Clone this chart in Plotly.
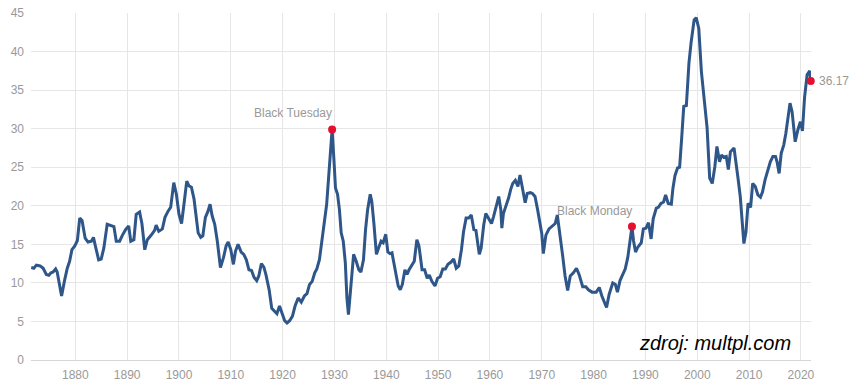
import plotly.graph_objects as go

# Shiller P/E (CAPE)
years = [
    1871.5, 1872.0, 1872.5, 1873.2, 1873.8, 1874.4, 1874.9, 1875.3, 1875.7, 1876.2,
    1876.5, 1876.9, 1877.35, 1877.95, 1878.45, 1878.9, 1879.35, 1879.9, 1880.4, 1880.85,
    1881.3, 1881.9, 1882.45, 1883.1, 1883.5, 1883.9, 1884.5, 1885.0, 1885.5, 1886.15,
    1886.8, 1887.45, 1887.9, 1888.55, 1889.1, 1889.7, 1890.3, 1890.7, 1891.3, 1891.75,
    1892.4, 1892.85, 1893.4, 1893.9, 1894.65, 1895.3, 1895.6, 1896.1, 1896.8, 1897.3,
    1897.9, 1898.4, 1899.0, 1899.5, 1900.0, 1900.5, 1901.0, 1901.5, 1901.9, 1902.4,
    1902.9, 1903.3, 1903.7, 1904.2, 1904.6, 1905.1, 1905.6, 1906.0, 1906.4, 1906.9,
    1907.4, 1908.0, 1908.6, 1909.1, 1909.5, 1910.0, 1910.5, 1910.9, 1911.4, 1912.0,
    1912.5, 1913.0, 1913.5, 1914.0, 1914.5, 1915.0, 1915.4, 1915.9, 1916.4, 1916.8,
    1917.4, 1917.9, 1918.4, 1918.9, 1919.4, 1919.9, 1920.4, 1920.85, 1921.35, 1921.9,
    1922.4, 1923.0, 1923.6, 1924.2, 1924.7, 1925.2, 1925.7, 1926.2, 1926.6, 1927.1,
    1927.6, 1928.1, 1928.5, 1928.9, 1929.2, 1929.55, 1929.9, 1930.2, 1930.6, 1930.96,
    1931.3, 1931.7, 1932.1, 1932.4, 1932.7, 1933.0, 1933.4, 1933.7, 1934.2, 1934.7,
    1935.1, 1935.6, 1936.0, 1936.4, 1936.9, 1937.2, 1937.6, 1937.9, 1938.1, 1938.5,
    1939.0, 1939.4, 1939.9, 1940.3, 1940.7, 1941.1, 1941.5, 1941.9, 1942.3, 1942.7,
    1943.1, 1943.6, 1944.0, 1944.4, 1944.9, 1945.4, 1945.9, 1946.3, 1946.6, 1946.9,
    1947.4, 1947.9, 1948.3, 1948.8, 1949.4, 1949.9, 1950.4, 1950.9, 1951.4, 1951.9,
    1952.5, 1953.0, 1953.5, 1954.0, 1954.5, 1954.9, 1955.4, 1955.9, 1956.4, 1956.9,
    1957.3, 1957.7, 1957.95, 1958.3, 1958.8, 1959.2, 1959.7, 1960.3, 1960.7, 1961.2,
    1961.7, 1962.1, 1962.3, 1962.6, 1963.1, 1963.6, 1964.0, 1964.4, 1964.9, 1965.4,
    1965.8, 1966.2, 1966.5, 1966.8, 1967.2, 1967.8, 1968.2, 1968.7, 1969.2, 1969.7,
    1970.0, 1970.3, 1970.8, 1971.4, 1972.0, 1972.6, 1973.0, 1973.5, 1974.0, 1974.5,
    1975.0, 1975.5, 1976.1, 1976.7, 1977.2, 1977.9, 1978.5, 1979.0, 1979.7, 1980.5,
    1981.1, 1981.6, 1982.1, 1982.5, 1983.0, 1983.7, 1984.2, 1984.6, 1985.1, 1985.6,
    1986.1, 1986.6, 1987.0, 1987.4, 1987.7, 1988.1, 1988.5, 1989.2, 1989.6, 1990.1,
    1990.6, 1991.1, 1991.5, 1992.1, 1992.5, 1993.0, 1993.5, 1993.9, 1994.4, 1995.0,
    1995.3, 1995.7, 1996.2, 1996.6, 1997.0, 1997.4, 1997.9, 1998.4, 1998.8, 1999.4,
    1999.8, 2000.3, 2000.8, 2001.5, 2001.9, 2002.4, 2002.9, 2003.4, 2003.8, 2004.3,
    2004.7, 2005.1, 2005.6, 2006.0, 2006.4, 2007.1, 2007.4, 2007.9, 2008.3, 2008.7,
    2009.0, 2009.4, 2009.8, 2010.3, 2010.7, 2011.2, 2011.7, 2012.2, 2012.6, 2013.1,
    2013.7, 2014.1, 2014.6, 2015.1, 2015.4, 2015.8, 2016.2, 2016.7, 2017.1, 2017.5,
    2017.9, 2018.3, 2018.6, 2018.9, 2019.4, 2019.9, 2020.3, 2020.7, 2021.2, 2021.7,
    2021.9,
]
cape = [
    12.0, 11.9, 12.3, 12.2, 11.9, 11.1, 11.0, 11.3, 11.4, 11.8,
    11.4, 10.0, 8.3, 10.4, 11.9, 12.8, 14.3, 14.8, 15.5, 18.4,
    18.1, 15.8, 15.3, 15.4, 15.9, 14.7, 13.0, 13.1, 14.5, 17.6,
    17.5, 17.3, 15.4, 15.4, 16.2, 16.9, 17.4, 15.4, 15.6, 18.9,
    19.2, 17.7, 14.3, 15.6, 16.2, 16.8, 17.5, 16.7, 17.0, 18.5,
    19.3, 19.8, 23.0, 21.5, 18.9, 17.7, 20.4, 23.2, 22.6, 22.4,
    20.9, 18.3, 16.5, 15.9, 16.1, 18.5, 19.3, 20.2, 18.7, 17.6,
    15.4, 12.0, 13.3, 14.8, 15.3, 14.3, 12.4, 14.1, 15.0, 14.0,
    13.7, 13.0, 11.7, 11.6, 10.7, 10.3, 10.9, 12.5, 12.0, 11.0,
    9.1, 6.7, 6.3, 6.0, 7.0, 6.1, 5.1, 4.8, 5.1, 5.7,
    7.0, 8.05, 7.5, 8.3, 8.6, 9.8, 10.2, 11.3, 11.8, 13.0,
    15.4, 18.2, 20.2, 23.9, 27.3, 29.9, 26.0, 22.3, 21.5, 19.5,
    16.5, 15.4, 12.6, 8.1, 5.9, 8.3, 12.2, 13.7, 12.8, 11.7,
    11.4, 13.0, 16.9, 19.5, 21.5, 20.6, 17.8, 14.8, 13.7, 14.5,
    15.4, 15.2, 16.3, 14.0, 13.8, 13.9, 12.6, 10.9, 9.6, 9.1,
    9.8, 11.7, 11.1, 11.7, 12.2, 12.8, 15.6, 14.8, 13.3, 11.7,
    11.7, 10.6, 11.0, 10.2, 9.6, 10.6, 10.8, 11.8, 11.8, 12.4,
    12.7, 13.1, 11.9, 12.2, 14.3, 16.6, 18.4, 18.4, 18.8, 16.9,
    16.8, 14.7, 13.7, 14.5, 17.5, 19.0, 18.4, 17.7, 18.6, 19.9,
    21.2, 19.5, 17.1, 19.0, 19.9, 21.0, 22.1, 22.9, 23.3, 22.5,
    24.0, 22.5, 21.0, 20.4, 21.6, 21.7, 21.6, 21.2, 19.5, 17.7,
    16.4, 13.8, 16.2, 17.0, 17.4, 17.7, 18.8, 16.5, 13.7, 10.9,
    9.0, 10.9, 11.3, 11.9, 11.1, 9.5, 9.5, 9.1, 8.8, 8.8,
    9.4, 8.3, 7.4, 6.8, 8.5, 10.0, 9.8, 8.8, 10.3, 11.1,
    11.8, 13.3, 15.0, 17.3, 15.5, 14.0, 14.6, 15.2, 17.0, 17.1,
    17.8, 15.7, 18.3, 19.7, 19.8, 20.3, 20.5, 21.4, 20.3, 20.2,
    22.2, 23.9, 24.9, 25.0, 28.8, 32.9, 33.0, 38.5, 41.1, 44.1,
    44.4, 43.0, 37.4, 32.2, 30.1, 23.6, 22.9, 25.1, 27.7, 25.7,
    26.6, 26.3, 26.4, 24.7, 27.0, 27.5, 26.2, 23.4, 21.2, 17.5,
    15.1, 16.6, 20.3, 19.8, 22.9, 22.5, 21.4, 21.1, 21.8, 23.4,
    24.7, 25.7, 26.4, 26.4, 25.7, 24.2, 26.8, 27.9, 29.4, 31.1,
    33.3, 32.2, 30.1, 28.3, 29.8, 30.9, 29.7, 34.0, 37.0, 37.5,
    36.17,
]

event_years = [1929.55, 1987.4]
event_values = [29.9, 17.3]
event_labels = ["Black Tuesday", "Black Monday"]

x_ticks = [1880, 1890, 1900, 1910, 1920, 1930, 1940, 1950, 1960, 1970, 1980, 1990, 2000, 2010, 2020]
y_ticks = [0, 5, 10, 15, 20, 25, 30, 35, 40, 45]

source_text = "zdroj: multpl.com"

FONT = "Liberation Sans, Arial, sans-serif"
GRAY = "#999999"
LINE = "#2f5688"
RED = "#e5102d"

fig = go.Figure()
fig.add_trace(go.Scatter(
    x=years, y=cape, mode="lines",
    line=dict(color=LINE, width=3),
    hoverinfo="skip", cliponaxis=False,
))
fig.add_trace(go.Scatter(
    x=event_years + [years[-1]], y=event_values + [cape[-1]],
    mode="markers", marker=dict(color=RED, size=8),
    hoverinfo="skip", cliponaxis=False,
))

annotations = []
for ex, ey, lab in zip(event_years, event_values, event_labels):
    annotations.append(dict(
        x=ex, y=ey, xref="x", yref="y", text=lab, showarrow=False,
        xanchor="right", yanchor="middle", xshift=2, yshift=16,
        font=dict(family=FONT, size=12, color=GRAY),
    ))
annotations.append(dict(
    x=years[-1], y=cape[-1], xref="x", yref="y", text=f"{cape[-1]:.2f}",
    showarrow=False, xanchor="left", yanchor="middle", xshift=6,
    font=dict(family=FONT, size=12, color=GRAY),
))
annotations.append(dict(
    x=0.877, y=0.049, xref="paper", yref="paper", text=f"<i>{source_text}</i>",
    showarrow=False, xanchor="center", yanchor="middle",
    font=dict(family=FONT, size=20, color="#000000"),
))

fig.update_layout(
    width=857, height=384,
    margin=dict(l=31, r=46, t=13, b=24, autoexpand=False),
    plot_bgcolor="white", paper_bgcolor="white",
    showlegend=False,
    hovermode=False,
    annotations=annotations,
    xaxis=dict(
        range=[1871.45, 2021.95], automargin=False,
        tickvals=x_ticks, ticktext=[str(t) for t in x_ticks],
        showgrid=True, gridcolor="#e6e6e6", gridwidth=1,
        showline=True, linecolor="#d6d6d6", linewidth=1,
        zeroline=False, ticks="",
        tickfont=dict(family=FONT, size=12, color=GRAY),
        ticklabelstandoff=4,
    ),
    yaxis=dict(
        range=[0, 45], tickvals=y_ticks, automargin=False,
        showgrid=True, gridcolor="#e6e6e6", gridwidth=1,
        zeroline=False, ticks="", showline=False,
        tickfont=dict(family=FONT, size=12, color=GRAY),
        ticklabelstandoff=6,
    ),
)

fig.write_html(
    "out.html",
    config={"displayModeBar": False, "staticPlot": True},
    post_script="document.body.style.margin='0';document.body.style.overflow='hidden';",
)
